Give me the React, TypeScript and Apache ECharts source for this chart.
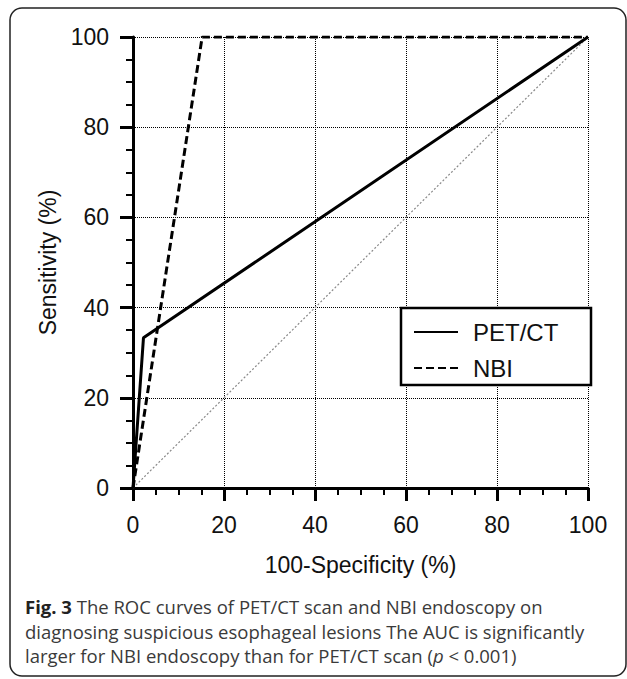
import React, { useEffect, useRef } from "react";
import * as echarts from "echarts";

const petX = [0, 2.3, 100];
const petY = [0, 33.3, 100];
const nbiX = [0, 15.2, 100];
const nbiY = [0, 100, 100];
const diagX = [0, 100];
const diagY = [0, 100];
const seriesNames = ["PET/CT", "NBI"];
const xTitle = "100-Specificity (%)";
const yTitle = "Sensitivity (%)";
const captionLines = [
  "{b|Fig. 3} The ROC curves of PET/CT scan and NBI endoscopy on",
  "diagnosing suspicious esophageal lesions The AUC is significantly",
  "larger for NBI endoscopy than for PET/CT scan ({i|p} < 0.001)",
];

const zip = (xs: number[], ys: number[]) => xs.map((x, i) => [x, ys[i]]);

const FONT = "Liberation Sans, Arial, sans-serif";

export default function App() {
  const ref = useRef<HTMLDivElement>(null);
  useEffect(() => {
    const chart = echarts.init(ref.current!, null, { renderer: "svg" });
    const axisCommon = {
      type: "value" as const,
      min: 0,
      max: 100,
      interval: 20,
      axisLine: { show: true, lineStyle: { color: "#000", width: 3 } },
      axisTick: { show: true, length: 13, lineStyle: { color: "#000", width: 3 } },
      minorTick: { show: true, splitNumber: 4, length: 7, lineStyle: { color: "#000", width: 2 } },
      splitLine: { show: true, lineStyle: { color: "#000", width: 1, type: "dotted" as const } },
      axisLabel: { color: "#111", fontSize: 23, fontFamily: FONT },
      nameTextStyle: { color: "#111", fontSize: 23, fontFamily: FONT },
    };
    chart.setOption({
      animation: false,
      backgroundColor: "#fff",
      grid: { left: 133, right: 39, top: 37, bottom: 191, containLabel: false },
      xAxis: {
        ...axisCommon,
        name: xTitle,
        nameLocation: "middle",
        nameGap: 65,
        axisLabel: { ...axisCommon.axisLabel, margin: 25 },
      },
      yAxis: {
        ...axisCommon,
        name: yTitle,
        nameLocation: "middle",
        nameGap: 72,
        axisLabel: { ...axisCommon.axisLabel, margin: 24 },
      },
      legend: {
        left: 413,
        top: 320,
        z: 30,
        orient: "vertical",
        padding: 0,
        itemGap: 12,
        itemWidth: 44,
        itemHeight: 14,
        data: seriesNames,
        itemStyle: { opacity: 0 },
        textStyle: { color: "#111", fontSize: 24, fontFamily: FONT, lineHeight: 20, padding: [0, 0, 0, 10] },
      },
      series: [
        {
          name: seriesNames[0],
          type: "line",
          data: zip(petX, petY),
          symbol: "none",
          lineStyle: { color: "#000", width: 3, type: "solid" },
          itemStyle: { color: "#000" },
          z: 5,
        },
        {
          name: seriesNames[1],
          type: "line",
          data: zip(nbiX, nbiY),
          symbol: "none",
          lineStyle: { color: "#000", width: 3, type: [8, 4] },
          itemStyle: { color: "#000" },
          z: 5,
        },
        {
          name: "diag",
          type: "line",
          data: zip(diagX, diagY),
          symbol: "none",
          lineStyle: { color: "#888", width: 1.2, type: [2, 2] },
          z: 3,
        },
      ],
      graphic: [
        {
          type: "rect",
          shape: { x: 10, y: 8, width: 616, height: 668, r: 12 },
          style: { fill: "none", stroke: "#222", lineWidth: 1.5 },
          z: 0,
        },
        {
          type: "rect",
          shape: { x: 401, y: 308, width: 190, height: 77 },
          style: { fill: "#fff", stroke: "#000", lineWidth: 2.5 },
          z: 10,
        },
        ...captionLines.map((t, i) => ({
          type: "text",
          left: 25,
          top: 597 + i * 24.5,
          z: 10,
          style: {
            text: t,
            fill: "#3a3a3a",
            font: "18.5px 'Open Sans', sans-serif",
            rich: {
              b: { fontWeight: "bold", fontSize: 18.5, fontFamily: "Open Sans", fill: "#222" },
              i: { fontStyle: "italic", fontSize: 18.5, fontFamily: "Open Sans", fill: "#3a3a3a" },
            },
          },
        })),
      ],
    });
    return () => chart.dispose();
  }, []);
  return <div ref={ref} style={{ width: 627, height: 679, position: "absolute", left: 0, top: 0 }} />;
}
